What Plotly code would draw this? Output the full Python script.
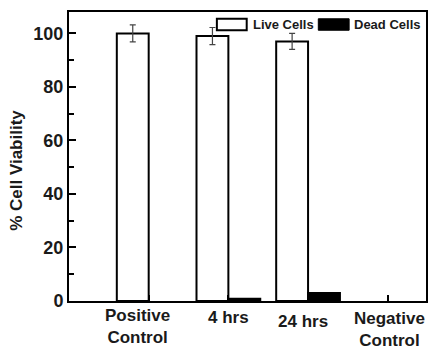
import plotly.graph_objects as go

# ---- data ----
categories = ["Positive Control", "4 hrs", "24 hrs", "Negative Control"]
live_cells = [100, 99, 97, None]
live_err = [3.2, 3.2, 3.0, None]
dead_cells = [None, 0.8, 3.0, None]
y_ticks = [0, 20, 40, 60, 80, 100]
x_labels = ["Positive<br>Control", "4 hrs", "24 hrs", "Negative<br>Control"]
series_names = ["Live Cells", "Dead Cells"]

# ---- layout geometry (pixels) ----
W, H = 430, 350
PL, PR, PT, PB = 69.3, 428.3, 11.7, 301.5


def px_x(px):
    return (px - PL) / (PR - PL)


def px_y(py):
    return (PB - py) / (PB - PT)


FONT = "Liberation Sans, Arial, sans-serif"
TXT = "#1a1a1a"

fig = go.Figure()
fig.add_trace(go.Bar(
    x=categories, y=live_cells, name=series_names[0],
    marker=dict(color="white", line=dict(color="black", width=2)),
    error_y=dict(type="data", array=live_err, visible=True,
                 color="#444", thickness=1.2, width=3),
    showlegend=False,
))
fig.add_trace(go.Bar(
    x=categories, y=dead_cells, name=series_names[1],
    marker=dict(color="black", line=dict(color="black", width=2)),
    showlegend=False,
))

# x labels as annotations (positions offset like the reference)
x_label_pos = [-0.14, 1.0, 1.94, 3.02]
x_label_py = [327, 318, 322.5, 330]
for lab, xp, py in zip(x_labels, x_label_pos, x_label_py):
    fig.add_annotation(x=xp, xref="x", y=px_y(py), yref="paper",
                       text=lab, showarrow=False, xanchor="center",
                       yanchor="middle",
                       font=dict(family=FONT, size=17, color=TXT,
                                 weight="bold"))

# y title
fig.add_annotation(x=px_x(17), xref="paper", y=px_y(170), yref="paper",
                   text="% Cell Viability", textangle=-90, showarrow=False,
                   xanchor="center", yanchor="middle",
                   font=dict(family=FONT, size=17, color=TXT, weight="bold"))

# custom legend
fig.add_shape(type="rect", xref="paper", yref="paper",
              x0=px_x(218), x1=px_x(248), y0=px_y(30), y1=px_y(18.5),
              line=dict(color="black", width=2), fillcolor="white")
fig.add_shape(type="rect", xref="paper", yref="paper",
              x0=px_x(320), x1=px_x(351), y0=px_y(30), y1=px_y(18.5),
              line=dict(color="black", width=1), fillcolor="black")
fig.add_annotation(x=px_x(252), xref="paper", y=px_y(24), yref="paper",
                   text=series_names[0], showarrow=False, xanchor="left",
                   yanchor="middle",
                   font=dict(family=FONT, size=13, color=TXT, weight="bold"))
fig.add_annotation(x=px_x(354), xref="paper", y=px_y(24), yref="paper",
                   text=series_names[1], showarrow=False, xanchor="left",
                   yanchor="middle",
                   font=dict(family=FONT, size=13, color=TXT, weight="bold"))

fig.update_layout(
    width=W, height=H,
    margin=dict(l=PL, r=W - PR, t=PT, b=H - PB),
    paper_bgcolor="white", plot_bgcolor="white",
    barmode="group", bargap=0.2, bargroupgap=0,
    showlegend=False,
)
fig.update_xaxes(
    type="category", categoryorder="array", categoryarray=categories,
    range=[-1.0, 3.48], showticklabels=False,
    ticks="inside", ticklen=6, tickwidth=2, tickcolor="black",
    showline=True, linecolor="black", linewidth=2, mirror=True,
    showgrid=False, zeroline=False,
)
fig.update_yaxes(
    range=[0, 108], tickvals=y_ticks,
    ticks="inside", ticklen=7, tickwidth=2, tickcolor="black",
    minor=dict(tickvals=[10, 30, 50, 70, 90], ticks="inside", ticklen=5,
               tickwidth=2, tickcolor="black", showgrid=False),
    showline=True, linecolor="black", linewidth=2, mirror=True,
    showgrid=False, zeroline=False,
    tickfont=dict(family=FONT, size=18, color=TXT, weight="bold"),
)

fig.write_html("out.html")
